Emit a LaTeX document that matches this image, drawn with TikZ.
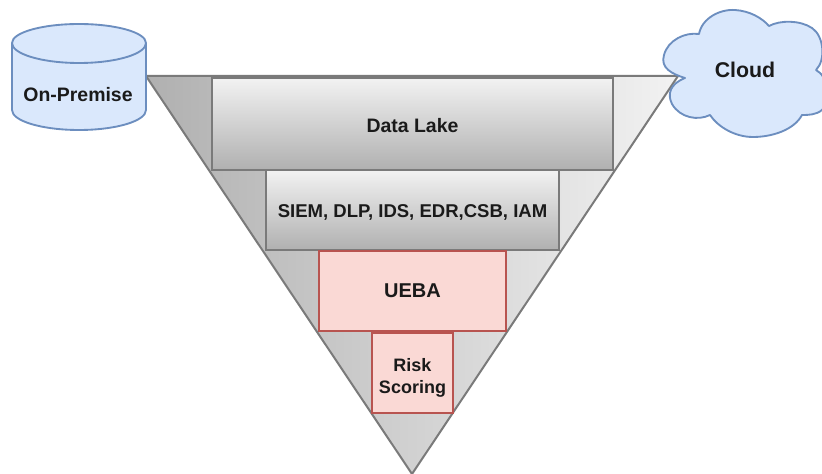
\documentclass[tikz,border=0pt]{standalone}
\usepackage{fontspec}
\setmainfont{Liberation Sans}
\usepackage{xcolor}
\usepackage{tikz}
\definecolor{edge}{HTML}{7A7A7A}
\definecolor{greyhi}{HTML}{F2F2F2}
\definecolor{greylo}{HTML}{B0B0B0}
\definecolor{bluefill}{HTML}{DAE8FC}
\definecolor{blueedge}{HTML}{6C8EBF}
\definecolor{redfill}{HTML}{FAD9D5}
\definecolor{rededge}{HTML}{B85450}
\definecolor{ink}{HTML}{1A1A1A}
\tikzset{
  funnel/.style={draw=edge, line width=1.5pt, line join=round, left color=greylo, right color=greyhi},
  layer/.style={draw=edge, line width=1.8pt, top color=greyhi, bottom color=greylo, text=ink, inner sep=0pt},
  hot/.style={draw=rededge, line width=1.8pt, fill=redfill, text=ink, align=center, inner sep=0pt},
  store/.style={draw=blueedge, line width=1.4pt, fill=bluefill, line join=round},
  lab/.style={text=ink},
}
\newcommand{\fs}[1]{\bfseries\fontsize{#1}{16.5}\selectfont}
\newcommand{\drop}[1]{\rule{0pt}{#1}}
\begin{document}
\begin{tikzpicture}[x=0.75pt,y=-0.75pt]
  \useasboundingbox (0,0) rectangle (822,474);
  \clip (0,0) rectangle (822,474);
  % funnel
  \path[funnel] (146,76) -- (678,76) -- (412,474) -- cycle;
  % layers
  \node[layer, minimum width=300.75pt, minimum height=69pt, font=\fs{14.6}] (lake) at (412.5,124) {\drop{13.5pt}Data Lake};
  \node[layer, minimum width=219.75pt, minimum height=60pt, font=\fs{13.9}] (siem) at (412.5,210) {\drop{14pt}SIEM, DLP, IDS, EDR,CSB, IAM};
  \node[hot, minimum width=140.25pt, minimum height=60pt, font=\fs{15}] (ueba) at (412.5,291) {UEBA};
  \node[hot, minimum width=60.75pt, minimum height=60pt, font=\fs{13.5}] (risk) at (412.5,373) {\drop{17pt}Risk\\Scoring};
  % on-premise cylinder
  \path[store] (12,43) -- (12,110) arc[start angle=180, end angle=0, x radius=67, y radius=20] -- (146,43) arc[start angle=360, end angle=180, x radius=67, y radius=19] -- cycle;
  \draw[store, fill=none] (12,43) arc[start angle=180, end angle=0, x radius=67, y radius=20];
  \node[lab, font=\fs{14.6}] (prem) at (78,95) {On-Premise};
  % cloud
  \path[store] (685,78) .. controls (672,74) and (660,68) .. (664,55)
    .. controls (668,40) and (685,32) .. (699,34)
    .. controls (702,18) and (720,9) .. (735,10)
    .. controls (750,11) and (762,18) .. (769,26)
    .. controls (780,20) and (800,20) .. (812,28)
    .. controls (824,36) and (826,60) .. (816,70)
    .. controls (828,76) and (832,100) .. (822,110)
    .. controls (816,115) and (808,115) .. (802,115)
    .. controls (794,130) and (772,137) .. (753,137)
    .. controls (735,137) and (718,127) .. (710,115)
    .. controls (698,121) and (680,118) .. (672,104)
    .. controls (667,94) and (670,84) .. (685,78) -- cycle;
  \node[lab, font=\fs{16}] (cloud) at (745,70) {Cloud};
\end{tikzpicture}
\end{document}
